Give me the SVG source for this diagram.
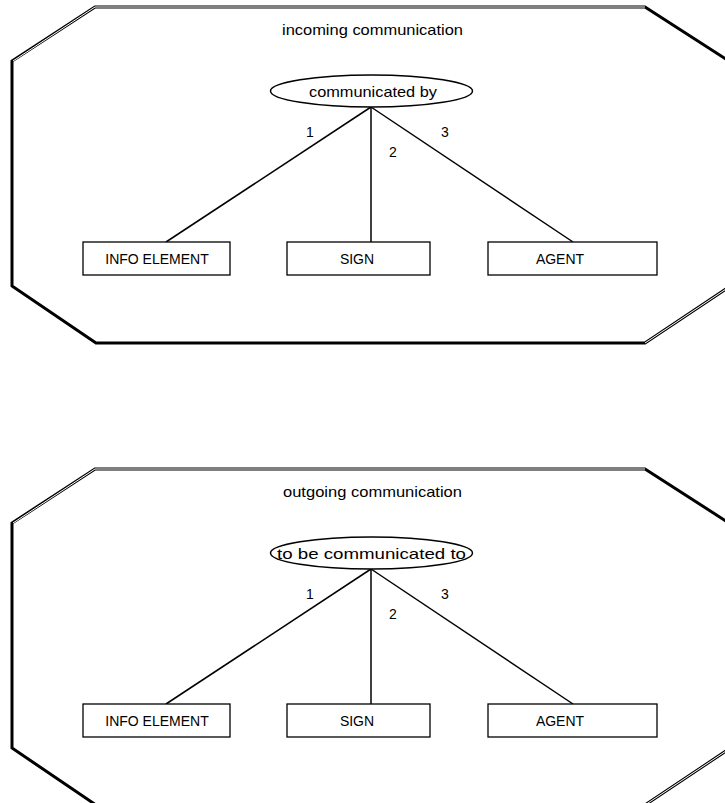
<svg xmlns="http://www.w3.org/2000/svg" width="725" height="803" viewBox="0 0 725 803">
<defs>
<style>
.oct{fill:none;stroke:#000;stroke-width:3;stroke-linejoin:miter}
.hl{fill:none;stroke:#fff;stroke-width:1}
.box{fill:#fff;stroke:#000;stroke-width:1.3}
.ell{fill:#fff;stroke:#000;stroke-width:1.5}
.edge{fill:none;stroke:#000;stroke-width:1.5}
text{font-family:"Liberation Sans",Arial,sans-serif;font-size:15px;fill:#000}
.u{font-size:14px;text-anchor:middle}
.n{font-size:14px}
</style>
<g id="frame">
<polygon class="oct" points="95,7 645,7 729,61 729,287 645,343 96,343 12,286 12,61"/>
<polyline class="hl" points="13,61 95,7 645,7"/>
<polyline class="hl" points="645,343 729,287"/>
</g>
</defs>
<g id="incoming">
<use href="#frame"/>
<text x="282" y="35" textLength="181" lengthAdjust="spacingAndGlyphs">incoming communication</text>
</g>
<g id="outgoing">
<use href="#frame" transform="translate(0,462)"/>
<text x="283" y="497" textLength="179" lengthAdjust="spacingAndGlyphs">outgoing communication</text>
</g>
<g id="connectors">
<line class="edge" x1="371" y1="107" x2="166" y2="242"/>
<line class="edge" x1="371" y1="107" x2="371" y2="242"/>
<line class="edge" x1="371" y1="107" x2="573" y2="242"/>
<line class="edge" x1="371" y1="569" x2="166" y2="704"/>
<line class="edge" x1="371" y1="569" x2="371" y2="704"/>
<line class="edge" x1="371" y1="569" x2="573" y2="704"/>
<text class="n" x="306" y="137">1</text>
<text class="n" x="389" y="157">2</text>
<text class="n" x="441" y="137">3</text>
<text class="n" x="306" y="599">1</text>
<text class="n" x="389" y="619">2</text>
<text class="n" x="441" y="599">3</text>
</g>
<g id="communicated-by">
<ellipse class="ell" cx="371.5" cy="91" rx="101" ry="16"/>
<text x="309" y="96.5" textLength="128" lengthAdjust="spacingAndGlyphs">communicated by</text>
</g>
<g id="info-element-1">
<rect class="box" x="83" y="242" width="147" height="33"/>
<text class="u" x="157" y="264">INFO ELEMENT</text>
</g>
<g id="sign-1">
<rect class="box" x="287" y="242" width="143" height="33"/>
<text class="u" x="357" y="264">SIGN</text>
</g>
<g id="agent-1">
<rect class="box" x="488" y="242" width="169" height="33"/>
<text class="u" x="560" y="264">AGENT</text>
</g>
<g id="to-be-communicated-to">
<ellipse class="ell" cx="371.5" cy="553" rx="101" ry="16"/>
<text x="277" y="558.5" textLength="189" lengthAdjust="spacingAndGlyphs">to be communicated to</text>
</g>
<g id="info-element-2">
<rect class="box" x="83" y="704" width="147" height="33"/>
<text class="u" x="157" y="726">INFO ELEMENT</text>
</g>
<g id="sign-2">
<rect class="box" x="287" y="704" width="143" height="33"/>
<text class="u" x="357" y="726">SIGN</text>
</g>
<g id="agent-2">
<rect class="box" x="488" y="704" width="169" height="33"/>
<text class="u" x="560" y="726">AGENT</text>
</g>
</svg>
